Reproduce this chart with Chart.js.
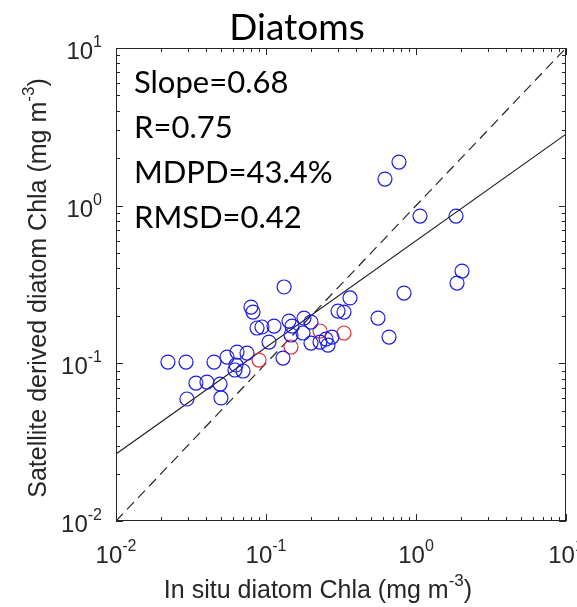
<!DOCTYPE html>
<html>
<head>
<meta charset="utf-8">
<script src="https://cdn.jsdelivr.net/npm/chart.js@4/dist/chart.umd.min.js"></script>
<style>
html, body { margin: 0; padding: 0; background: #fff; }
</style>
</head>
<body>
<canvas id="chart" width="577" height="607"></canvas>
<script>
// in situ (x) vs satellite (y) diatom Chla, mg m-3
const blueX = [0.770, 0.621, 1.063, 1.848, 0.132, 2.026, 1.877, 0.832, 0.363, 0.0794,
               0.0819, 0.302, 0.331, 0.558, 0.661, 0.0871, 0.0940, 0.1131, 0.1423, 0.1491,
               0.1792, 0.1995, 0.1047, 0.1298, 0.1468, 0.1765, 0.1995, 0.2291, 0.2512, 0.2754,
               0.2591, 0.0641, 0.0747, 0.0550, 0.0222, 0.0293, 0.0450, 0.0631, 0.0621, 0.0703,
               0.0341, 0.0404, 0.0494, 0.0297, 0.0501];
const blueY = [1.890, 1.475, 0.859, 0.859, 0.305, 0.385, 0.323, 0.279, 0.260, 0.2275,
               0.2115, 0.2146, 0.2115, 0.1937, 0.1468, 0.1675, 0.1700, 0.1724, 0.1854, 0.1724,
               0.1937, 0.1827, 0.1365, 0.1080, 0.1512, 0.1557, 0.1345, 0.1365, 0.1426, 0.1468,
               0.1306, 0.1179, 0.1162, 0.1096, 0.1019, 0.1019, 0.1019, 0.0976, 0.0907, 0.0894,
               0.0750, 0.0761, 0.0739, 0.0594, 0.0603];
const redX = [0.2291, 0.331, 0.1468, 0.0898];
const redY = [0.1603, 0.1557, 0.1269, 0.1049];

const oneToOne = [0.01, 10];
const fitX = [0.01, 10];
const fitY = [0.0266, 2.84];

const decades = [0.01, 0.1, 1, 10];
const decadeExp = ['-2', '-1', '0', '1'];
const minorSteps = [1, 2, 3, 4, 5, 6, 7, 8, 9];
const statLines = ['Slope=0.68', 'R=0.75', 'MDPD=43.4%', 'RMSD=0.42'];

const toPoints = (xs, ys) => xs.map((x, i) => ({ x, y: ys[i] }));

function drawPow(ctx, x, y, exp, align) {
    ctx.font = '24px "Liberation Sans"';
    const wb = ctx.measureText('10').width;
    ctx.font = '16px "Liberation Sans"';
    const we = ctx.measureText(exp).width;
    const start = align === 'right' ? x - wb - we : x - (wb + we) / 2;
    ctx.textAlign = 'left';
    ctx.font = '24px "Liberation Sans"';
    ctx.fillText('10', start, y);
    ctx.font = '16px "Liberation Sans"';
    ctx.fillText(exp, start + wb, y - 12);
}

// axis title with a superscript exponent in the unit
function drawUnitTitle(ctx, main, sup, tail, cx, cy) {
    ctx.font = '25px "Liberation Sans"';
    const w1 = ctx.measureText(main).width;
    const w3 = ctx.measureText(tail).width;
    ctx.font = '17px "Liberation Sans"';
    const w2 = ctx.measureText(sup).width;
    const x = cx - (w1 + w2 + w3) / 2;
    ctx.textAlign = 'left';
    ctx.font = '25px "Liberation Sans"';
    ctx.fillText(main, x, cy);
    ctx.font = '17px "Liberation Sans"';
    ctx.fillText(sup, x + w1, cy - 12);
    ctx.font = '25px "Liberation Sans"';
    ctx.fillText(tail, x + w1 + w2, cy);
}

const matlabFrame = {
    id: 'matlabFrame',
    afterDatasetsDraw(chart) {
        const { ctx, chartArea: a, scales: { x, y } } = chart;
        ctx.save();
        ctx.strokeStyle = '#262626';
        ctx.lineWidth = 1;
        ctx.strokeRect(a.left + 0.5, a.top + 0.5, a.right - a.left - 1, a.bottom - a.top - 1);

        // inward ticks on all four sides
        ctx.beginPath();
        decades.forEach(d => {
            minorSteps.forEach(m => {
                const v = d * m;
                if (v > 10.001) return;
                const len = m === 1 ? 7 : 4;
                const px = Math.round(x.getPixelForValue(v)) + 0.5;
                ctx.moveTo(px, a.bottom); ctx.lineTo(px, a.bottom - len);
                ctx.moveTo(px, a.top); ctx.lineTo(px, a.top + len);
                const py = Math.round(y.getPixelForValue(v)) + 0.5;
                ctx.moveTo(a.left, py); ctx.lineTo(a.left + len, py);
                ctx.moveTo(a.right, py); ctx.lineTo(a.right - len, py);
            });
        });
        ctx.stroke();

        ctx.fillStyle = '#262626';
        ctx.textBaseline = 'alphabetic';
        decades.forEach((d, i) => {
            drawPow(ctx, x.getPixelForValue(d), a.bottom + 42, decadeExp[i], 'center');
            drawPow(ctx, a.left - 14, y.getPixelForValue(d) + 11, decadeExp[i], 'right');
        });

        drawUnitTitle(ctx, 'In situ diatom Chla (mg m', '-3', ')', 318, 598);
        ctx.save();
        ctx.translate(46, 288);
        ctx.rotate(-Math.PI / 2);
        drawUnitTitle(ctx, 'Satellite derived diatom Chla (mg m', '-3', ')', 0, 0);
        ctx.restore();

        ctx.fillStyle = '#000';
        ctx.font = '37px Lato';
        ctx.textAlign = 'center';
        ctx.fillText('Diatoms', 297, 40);
        ctx.textAlign = 'left';
        ctx.font = '31px Lato';
        statLines.forEach((t, i) => ctx.fillText(t, 134, 93 + i * 45));
        ctx.restore();
    }
};

new Chart(document.getElementById('chart').getContext('2d'), {
    type: 'scatter',
    data: {
        datasets: [
            {
                label: 'blue',
                data: toPoints(blueX, blueY),
                pointRadius: 7,
                pointHoverRadius: 7,
                borderColor: '#1c1ce0',
                backgroundColor: 'rgba(0,0,0,0)',
                borderWidth: 1.2,
            },
            {
                label: 'red',
                data: toPoints(redX, redY),
                pointRadius: 7,
                pointHoverRadius: 7,
                borderColor: '#dd3030',
                backgroundColor: 'rgba(0,0,0,0)',
                borderWidth: 1.2,
            },
            {
                label: 'fit',
                type: 'line',
                data: toPoints(fitX, fitY),
                borderColor: '#1a1a1a',
                borderWidth: 1.1,
                pointRadius: 0,
                fill: false,
            },
            {
                label: '1:1',
                type: 'line',
                data: toPoints(oneToOne, oneToOne),
                borderColor: '#262626',
                borderWidth: 1.2,
                borderDash: [10, 6],
                pointRadius: 0,
                fill: false,
            },
        ]
    },
    options: {
        responsive: false,
        animation: false,
        devicePixelRatio: 1,
        layout: { padding: { left: 116, right: 11, top: 48, bottom: 86 } },
        scales: {
            x: { type: 'logarithmic', min: 0.01, max: 10, display: false },
            y: { type: 'logarithmic', min: 0.01, max: 10, display: false }
        },
        plugins: {
            legend: { display: false },
            tooltip: { enabled: false }
        }
    },
    plugins: [matlabFrame]
});
</script>
</body>
</html>
